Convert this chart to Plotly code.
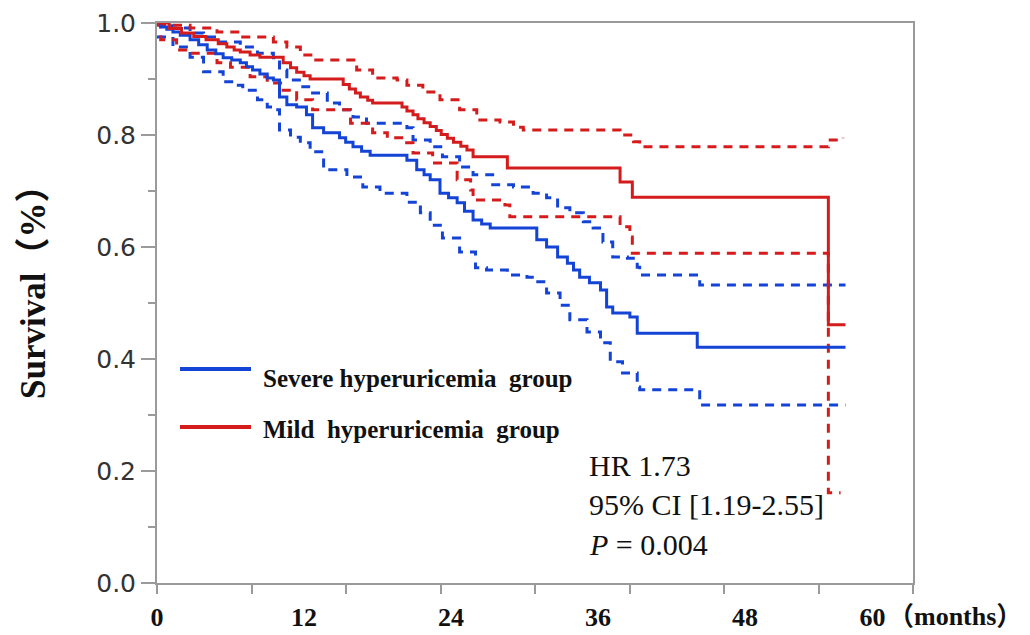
import plotly.graph_objects as go

# ---- Kaplan-Meier estimates (months, survival probability) ----
severe_t = [0, 0.3, 0.8, 1.3, 1.9, 2.7, 3.4, 4.1, 4.8, 5.4, 6.1, 6.8, 7.3, 7.8, 8.4, 9.0, 9.5,
            10.0, 10.6, 11.4, 12.2, 12.7, 13.6, 14.9, 15.4, 16.0, 16.7, 17.4, 20.4, 21.2, 21.8,
            22.3, 23.1, 23.8, 24.5, 25.1, 25.8, 26.5, 27.2, 31.0, 31.8, 32.7, 33.5, 34.0, 34.5,
            35.3, 36.2, 36.7, 37.2, 38.6, 39.2, 44.1, 56.2]
severe_s = [1.0, 0.993, 0.989, 0.984, 0.978, 0.970, 0.961, 0.952, 0.945, 0.938, 0.934, 0.929,
            0.922, 0.916, 0.909, 0.902, 0.898, 0.868, 0.854, 0.850, 0.836, 0.813, 0.804, 0.795,
            0.787, 0.779, 0.771, 0.764, 0.755, 0.738, 0.729, 0.720, 0.696, 0.688, 0.679, 0.664,
            0.648, 0.641, 0.634, 0.613, 0.600, 0.582, 0.571, 0.559, 0.546, 0.536, 0.523, 0.493,
            0.482, 0.475, 0.446, 0.421, 0.421]

severe_up_t = [0, 1.2, 2.7, 3.8, 4.9, 6.8, 8.2, 9.5, 10.0, 10.6, 11.9, 12.7, 13.9, 14.9, 16.0,
               17.1, 20.4, 20.9, 22.3, 23.3, 24.7, 25.8, 27.4, 29.1, 30.7, 31.8, 32.7, 33.7,
               34.8, 35.6, 36.4, 37.2, 38.4, 39.2, 39.4, 44.3, 56.2]
severe_up_s = [1.0, 0.991, 0.982, 0.975, 0.966, 0.957, 0.946, 0.938, 0.916, 0.898, 0.886, 0.875,
               0.857, 0.845, 0.832, 0.821, 0.813, 0.791, 0.779, 0.761, 0.743, 0.729, 0.711,
               0.707, 0.696, 0.688, 0.670, 0.661, 0.645, 0.634, 0.609, 0.582, 0.580, 0.564,
               0.550, 0.532, 0.532]

severe_lo_t = [0, 1.3, 2.7, 3.8, 5.4, 6.5, 7.0, 8.2, 9.0, 9.5, 10.0, 10.9, 11.7, 12.5, 13.6,
               15.5, 16.8, 18.2, 20.4, 21.5, 22.3, 23.3, 24.7, 26.0, 26.9, 28.6, 30.2, 30.9,
               31.8, 32.9, 33.7, 35.1, 36.2, 37.0, 38.0, 39.2, 39.4, 44.3, 56.2]
severe_lo_s = [0.975, 0.957, 0.939, 0.913, 0.895, 0.889, 0.880, 0.863, 0.850, 0.845, 0.809,
               0.796, 0.786, 0.770, 0.738, 0.725, 0.707, 0.696, 0.680, 0.661, 0.639, 0.616,
               0.591, 0.563, 0.559, 0.550, 0.546, 0.538, 0.518, 0.496, 0.470, 0.448, 0.429,
               0.395, 0.375, 0.350, 0.345, 0.318, 0.318]

mild_t = [0, 1.0, 2.0, 3.0, 4.0, 5.0, 5.7, 6.3, 6.8, 7.6, 8.4, 10.3, 10.9, 11.4, 12.0, 12.5,
          15.2, 15.7, 16.2, 16.6, 17.2, 17.6, 20.0, 20.4, 20.9, 21.3, 21.8, 22.3, 22.8, 23.2,
          23.7, 24.2, 24.8, 25.3, 25.8, 28.6, 37.8, 38.8, 54.8, 56.2]
mild_s = [1.0, 0.990, 0.982, 0.976, 0.970, 0.963, 0.957, 0.952, 0.948, 0.943, 0.939, 0.929,
          0.920, 0.912, 0.906, 0.900, 0.890, 0.882, 0.875, 0.868, 0.862, 0.857, 0.850, 0.843,
          0.836, 0.829, 0.822, 0.815, 0.808, 0.801, 0.794, 0.787, 0.780, 0.773, 0.761, 0.741,
          0.716, 0.689, 0.461, 0.461]

mild_up_t = [0, 2.7, 4.9, 6.8, 9.5, 10.6, 11.7, 12.7, 16.3, 17.6, 19.6, 20.4, 21.7, 23.1, 24.7,
             26.1, 28.0, 29.1, 29.9, 37.8, 38.9, 39.4, 54.8, 56.0]
mild_up_s = [0.996, 0.991, 0.984, 0.975, 0.966, 0.957, 0.943, 0.934, 0.916, 0.902, 0.898, 0.889,
             0.877, 0.863, 0.845, 0.827, 0.823, 0.814, 0.809, 0.800, 0.788, 0.779, 0.791, 0.795]

mild_lo_t = [0, 0.3, 1.6, 2.7, 4.9, 6.0, 7.6, 9.0, 10.3, 11.4, 12.7, 15.8, 17.6, 18.8, 20.1,
             20.9, 22.5, 24.5, 25.6, 25.8, 28.4, 28.8, 37.8, 38.6, 38.8, 54.8, 55.8]
mild_lo_s = [1.0, 0.970, 0.952, 0.946, 0.929, 0.921, 0.904, 0.893, 0.880, 0.863, 0.845, 0.821,
             0.804, 0.795, 0.786, 0.768, 0.750, 0.720, 0.702, 0.684, 0.675, 0.654, 0.636,
             0.618, 0.589, 0.161, 0.161]

group_names = ["Severe hyperuricemia\u00a0 group", "Mild\u00a0 hyperuricemia\u00a0 group"]
x_ticks = [0, 12, 24, 36, 48, 60]
y_ticks = [0.0, 0.2, 0.4, 0.6, 0.8, 1.0]
stats_lines = ["HR 1.73", "95% CI [1.19-2.55]", "<i>P</i> = 0.004"]

BLUE = "#1444d6"
RED = "#d41c1c"
AXIS = "#9a9a9a"
SERIF = "Liberation Serif, Times New Roman, Noto Sans CJK SC, serif"
DASH = "9px,7px"

fig = go.Figure()

def km(t, s, color, dashed):
    fig.add_trace(go.Scatter(
        x=t, y=s, mode="lines", line_shape="hv", showlegend=False, hoverinfo="skip",
        line=dict(color=color, width=3, dash=DASH if dashed else "solid"),
    ))

km(severe_up_t, severe_up_s, BLUE, True)
km(severe_lo_t, severe_lo_s, BLUE, True)
km(mild_up_t, mild_up_s, RED, True)
km(mild_lo_t, mild_lo_s, RED, True)
km(severe_t, severe_s, BLUE, False)
km(mild_t, mild_s, RED, False)

# plot area in pixels
L, R, T, B = 157, 913, 23, 583
W, H = R - L, B - T

def px(xp):
    return (xp - L) / W

def py(yp):
    return (B - yp) / H

# legend swatches and labels
for (ly, ty, col, name) in [(369, 378, BLUE, group_names[0]), (427, 429, RED, group_names[1])]:
    fig.add_shape(type="line", xref="paper", yref="paper",
                  x0=px(180), x1=px(251), y0=py(ly), y1=py(ly),
                  line=dict(color=col, width=4))
    fig.add_annotation(xref="paper", yref="paper", x=px(261), y=py(ty),
                       xanchor="left", yanchor="middle", showarrow=False,
                       text=f"<b>{name}</b>",
                       font=dict(family=SERIF, size=25, color="#111111"))

# hazard ratio block
for i, line in enumerate(stats_lines):
    fig.add_annotation(xref="paper", yref="paper", x=px(587), y=py(465 + 39.5 * i),
                       xanchor="left", yanchor="middle", showarrow=False, text=line,
                       font=dict(family=SERIF, size=30, color="#111111"))

# axis titles
fig.add_annotation(xref="paper", yref="paper", x=px(33), y=py(284), textangle=-90,
                   xanchor="center", yanchor="middle", showarrow=False,
                   text="<b>Survival（%）</b>",
                   font=dict(family=SERIF, size=35, color="#111111"))
fig.add_annotation(xref="paper", yref="paper", x=px(886), y=py(616),
                   xanchor="left", yanchor="middle", showarrow=False,
                   text="<b>（months）</b>",
                   font=dict(family=SERIF, size=26, color="#111111"))

# the last label carries trailing em/en spaces so it sits left of "(months)"
x_labels = [f"<b>{v}</b>" for v in x_ticks]
x_labels[-1] = f"<b>{x_ticks[-1]}</b>\u2003\u2002"

x_max = 61.71
fig.update_xaxes(
    range=[0, x_max], tickmode="array", tickvals=x_ticks, ticktext=x_labels,
    ticks="", ticklabelstandoff=10, automargin=False,
    tickfont=dict(family=SERIF, size=26, color="#111111"),
    showgrid=False, zeroline=False,
    showline=True, linecolor=AXIS, linewidth=2, mirror=True,
    minor=dict(tick0=0, dtick=x_max / 8, ticks="outside", ticklen=9,
               tickwidth=2, tickcolor=AXIS, showgrid=False),
)
fig.update_yaxes(
    range=[0, 1], tickmode="array", tickvals=y_ticks, tickformat=".1f",
    ticks="outside", ticklen=14, tickwidth=2, tickcolor=AXIS, automargin=False,
    tickfont=dict(family="DejaVu Sans, Verdana, sans-serif", size=25, color="#333333"),
    showgrid=False, zeroline=False,
    showline=True, linecolor=AXIS, linewidth=2, mirror=True,
    minor=dict(dtick=0.1, ticks="outside", ticklen=7, tickwidth=2,
               tickcolor=AXIS, showgrid=False),
)

fig.update_layout(
    width=1030, height=635,
    margin=dict(l=L, r=1030 - R, t=T, b=635 - B, autoexpand=False),
    plot_bgcolor="white", paper_bgcolor="white",
    showlegend=False,
)

fig.write_html("out.html")
